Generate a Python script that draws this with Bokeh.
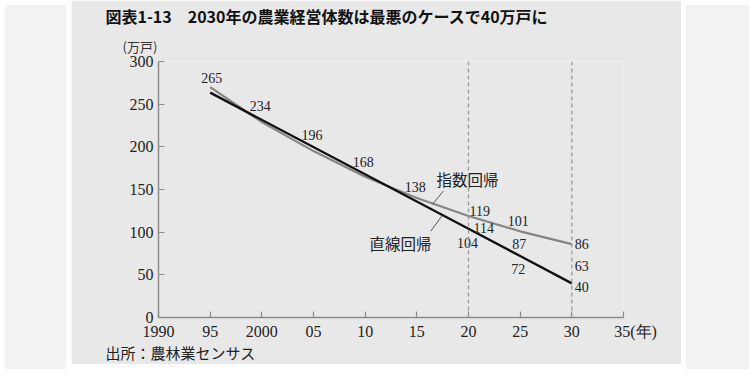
from bokeh.plotting import figure
from bokeh.layouts import row
from bokeh.models import Range1d, FixedTicker, Span, Title, Div, ColumnDataSource
from bokeh.core.properties import value
from bokeh.embed import file_html
from bokeh.resources import INLINE

# ---------------- data ----------------
x_ticks = [1990, 1995, 2000, 2005, 2010, 2015, 2020, 2025, 2030, 2035]
x_tick_labels = ["1990", "95", "2000", "05", "10", "15", "20", "25", "30", "\u3000\u200235(年)"]
y_ticks = [0, 50, 100, 150, 200, 250, 300]

# exponential regression (grey curve)
exp_years = [1995, 2000, 2005, 2010, 2015, 2020, 2025, 2030]
exp_vals = [270, 229, 195, 165, 140, 119, 101, 86]

# linear regression (black line)
lin_years = [1995, 2020, 2025, 2030]
lin_vals = [263.5, 104, 72, 40]

# value labels
hist_years = [1995, 2000, 2005, 2010, 2015]
hist_vals = [265, 234, 196, 168, 138]
proj_years = [2020, 2020, 2020, 2025, 2025, 2025, 2030, 2030, 2030]
proj_vals = [119, 114, 104, 101, 87, 72, 86, 63, 40]

title_text = "図表1-13　2030年の農業経営体数は最悪のケースで40万戸に"
unit_text = "(万戸)"
source_text = "出所：農林業センサス"
exp_name = "指数回帰"
lin_name = "直線回帰"

# ---------------- layout helpers (page pixel -> data) ----------------
X0, XS = 156.0, 465.0 / 45.0
Y0, YS = 325.0, 260.0 / 300.0


def dx(px):
    return 1990 + (px - X0) / XS


def dy(py):
    return (Y0 - py) / YS


SERIF = "Liberation Serif"
JP = "Noto Sans CJK JP"
MIXED = "Liberation Sans, Noto Sans CJK JP"
PANEL = "#e8e8e8"
OUTER = "#f2f2f2"
AXIS = "#8c8c8c"
H = 364

fig = figure(width=610, height=H, output_backend="svg", toolbar_location=None,
             x_range=Range1d(1990, 2035), y_range=Range1d(0, 300),
             min_border_left=87, min_border_right=58,
             min_border_top=57, min_border_bottom=47,
             background_fill_color=PANEL, border_fill_color=PANEL,
             outline_line_color=None)
fig.grid.visible = False
fig.title.visible = False

# axes
for ax in (fig.xaxis[0], fig.yaxis[0]):
    ax.axis_line_color = AXIS
    ax.axis_line_width = 1.5
    ax.major_tick_line_color = AXIS
    ax.major_tick_line_width = 1.2
    ax.major_tick_in = 6
    ax.major_tick_out = 0
    ax.minor_tick_line_color = None
    ax.major_label_text_font = SERIF
    ax.major_label_text_font_size = "16px"
    ax.major_label_text_color = "#222222"
    ax.major_label_standoff = 5

fig.xaxis.ticker = FixedTicker(ticks=x_ticks)
fig.xaxis.major_label_overrides = {t: s for t, s in zip(x_ticks, x_tick_labels)}
fig.yaxis.ticker = FixedTicker(ticks=y_ticks)
fig.xaxis.major_label_standoff = 5

# dashed reference lines
for yr in (2020, 2030):
    fig.add_layout(Span(location=yr, dimension="height", line_color="#999999",
                        line_width=1.3, line_dash="4 3"))

# lines
fig.line(exp_years, exp_vals, line_color="#858585", line_width=2.2)
fig.line(lin_years, lin_vals, line_color="#111111", line_width=2.4)

# leader lines
fig.segment(x0=[dx(440.7), dx(439.3)], y0=[dy(196.7), dy(222)],
            x1=[dx(430), dx(428.3)], y1=[dy(210), dy(237.3)],
            line_color="#555555", line_width=1)

# value labels
lab_x = hist_years + proj_years
lab_v = hist_vals + proj_vals
x_off = [1.5, -1.5, -1.5, -2, -1.5, 1, 5, -1, -2, -1, -2, 3, 3, 3]
y_off = [-13, -12, -15, -12, -13, -5, 8, 14, -10, 1, 13, 0, 2, 4]
align = ["center"] * 5 + ["left", "left", "center", "center", "center", "center",
                          "left", "left", "left"]
src = ColumnDataSource(dict(x=lab_x, y=lab_v, t=[str(v) for v in lab_v],
                            xo=x_off, yo=y_off, a=align))
fig.text(x="x", y="y", text="t", x_offset="xo", y_offset="yo", text_align="a",
         text_baseline="middle", text_font=value(SERIF), text_font_size="14px",
         text_color="#222222", source=src)

# series names inside the frame
fig.text(x=[dx(434), dx(367)], y=[dy(184), dy(249)], text=[exp_name, lin_name],
         text_align="left", text_baseline="middle", text_font=value(JP),
         text_font_size="15.5px", text_color="#222222")

# texts outside the frame (titles)
fig.add_layout(Title(text=unit_text, align="left", offset=-36, standoff=12,
                     text_font=JP, text_font_size="13px", text_font_style="normal",
                     text_color="#333333"), "above")
fig.add_layout(Title(text=title_text, align="left", offset=-53, standoff=2,
                     text_font=JP, text_font_size="16px", text_font_style="bold",
                     text_color="#111111"), "above")
fig.add_layout(Title(text=source_text, align="left", offset=-53, standoff=0,
                     text_font=MIXED, text_font_size="15px", text_font_style="normal",
                     text_color="#222222"), "below")

left_band = Div(text="", width=61, height=H, styles={"background-color": OUTER})
right_band = Div(text="", width=63, height=H, styles={"background-color": OUTER})

p = row(left_band, fig, right_band, spacing=0)

open("out.html", "w").write(file_html(p, INLINE))
